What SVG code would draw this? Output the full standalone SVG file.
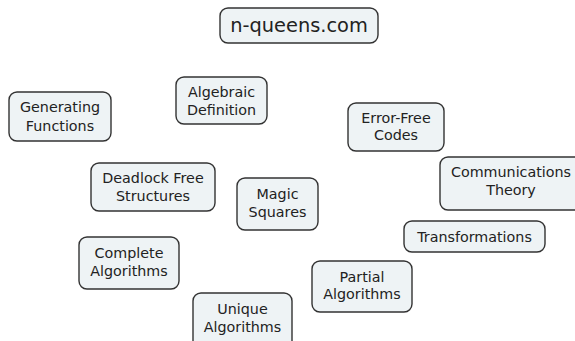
<svg xmlns="http://www.w3.org/2000/svg" width="575" height="341" viewBox="0 0 575 341">
<style>
.box{fill:#eef3f5;stroke:#333;stroke-width:1.4}
text{font-family:"DejaVu Sans",Verdana,sans-serif;font-size:14.3px;fill:#222;text-anchor:middle}
.title{font-size:19.4px}
</style>
<rect width="575" height="341" fill="#fff"/>
<g id="connectors"></g>
<g id="n-queens"><rect class="box" x="220" y="8" width="158" height="35" rx="8"/><text class="title" x="299" y="32">n-queens.com</text></g>
<g id="generating"><rect class="box" x="9" y="92" width="102" height="49" rx="8"/><text x="60" y="112">Generating</text><text x="60" y="131">Functions</text></g>
<g id="algebraic"><rect class="box" x="176" y="77" width="91" height="47" rx="8"/><text x="221.5" y="97">Algebraic</text><text x="221.5" y="115">Definition</text></g>
<g id="deadlock"><rect class="box" x="91" y="163" width="124" height="48" rx="8"/><text x="153" y="183">Deadlock Free</text><text x="153" y="201">Structures</text></g>
<g id="magic"><rect class="box" x="237" y="178" width="81" height="52" rx="8"/><text x="277.5" y="199">Magic</text><text x="277.5" y="217">Squares</text></g>
<g id="error-free"><rect class="box" x="348" y="103" width="96" height="48" rx="8"/><text x="396" y="123">Error-Free</text><text x="396" y="140">Codes</text></g>
<g id="communications"><rect class="box" x="440" y="157" width="142" height="53" rx="8"/><text x="511" y="177">Communications</text><text x="511" y="195">Theory</text></g>
<g id="transformations"><rect class="box" x="404" y="221" width="141" height="31" rx="8"/><text x="474.5" y="242">Transformations</text></g>
<g id="complete"><rect class="box" x="79" y="237" width="100" height="52" rx="8"/><text x="129" y="258">Complete</text><text x="129" y="276">Algorithms</text></g>
<g id="partial"><rect class="box" x="312" y="261" width="100" height="51" rx="8"/><text x="362" y="282">Partial</text><text x="362" y="299">Algorithms</text></g>
<g id="unique"><rect class="box" x="193" y="293" width="99" height="56" rx="8"/><text x="242.5" y="314">Unique</text><text x="242.5" y="332">Algorithms</text></g>
</svg>
